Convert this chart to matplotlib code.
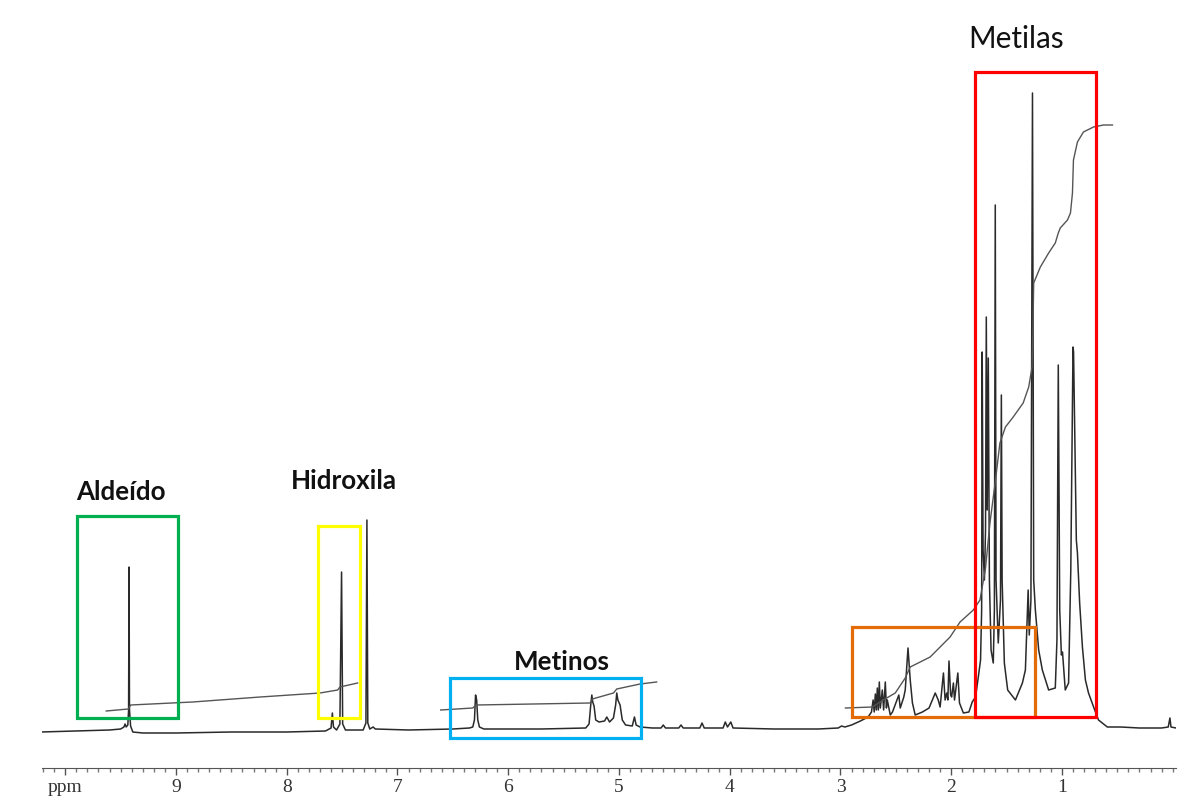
import matplotlib
matplotlib.use('Agg')
import matplotlib.pyplot as plt
from matplotlib.patches import Rectangle

# spectrum trace: chemical shift (ppm) and height above baseline
ppm = [10.22, 9.9, 9.6, 9.50, 9.47, 9.46, 9.45, 9.435, 9.428, 9.424, 9.420, 9.41, 9.39, 9.30, 9.0,
       8.5, 8.0, 7.65, 7.60, 7.588, 7.578, 7.55, 7.52, 7.505, 7.495, 7.47, 7.31, 7.285, 7.276,
       7.268, 7.25, 7.22, 7.20, 6.9, 6.5, 6.35, 6.32, 6.305, 6.295, 6.285, 6.275, 6.26, 6.22,
       5.7, 5.3, 5.27, 5.255, 5.245, 5.237, 5.225, 5.21, 5.18, 5.13, 5.11, 5.085, 5.05, 5.03,
       5.02, 5.01, 4.99, 4.97, 4.94, 4.88, 4.86, 4.845, 4.81, 4.7, 4.62, 4.60, 4.58, 4.46, 4.44,
       4.42, 4.27, 4.25, 4.23, 4.06, 4.04, 4.02, 3.99, 3.97, 3.6, 3.2, 3.02, 2.99, 2.96, 2.90,
       2.82, 2.75, 2.72, 2.705, 2.695, 2.685, 2.676, 2.667, 2.658, 2.649, 2.64, 2.622, 2.61,
       2.595, 2.585, 2.577, 2.55, 2.53, 2.473, 2.46, 2.428, 2.415, 2.39, 2.37, 2.35, 2.325,
       2.26, 2.20, 2.144, 2.117, 2.10, 2.07, 2.055, 2.04, 2.03, 2.02, 2.005, 1.996, 1.98, 1.97,
       1.94, 1.925, 1.89, 1.84, 1.81, 1.78, 1.755, 1.735, 1.725, 1.720, 1.712, 1.70, 1.69,
       1.683, 1.675, 1.665, 1.655, 1.64, 1.62, 1.61, 1.602, 1.595, 1.575, 1.555, 1.547, 1.54,
       1.52, 1.49, 1.42, 1.357, 1.33, 1.305, 1.295, 1.28, 1.266, 1.255, 1.24, 1.21, 1.177,
       1.12, 1.06, 1.045, 1.033, 1.02, 1.005, 0.995, 0.97, 0.94, 0.92, 0.90, 0.895, 0.885,
       0.87, 0.86, 0.84, 0.815, 0.788, 0.76, 0.714, 0.67, 0.59, 0.47, 0.3, 0.1, 0.04, 0.025,
       0.015, -0.03]
intensity = [-2, -1, 0, 1, 3, 6, 3, 5, 20, 163, 20, 4, -2, -3, -3,
             -2, -2, -1, 2, 17, 3, 0, 6, 158, 6, 0, 0, 7, 210,
             7, 1, 3, 1, 0, 1, 2, 3, 10, 35, 30, 10, 3, 1,
             1, 2, 6, 25, 35, 28, 24, 10, 8, 9, 13, 8, 12, 25,
             37, 30, 25, 10, 5, 4, 13, 5, 3, 2, 2, 5, 2, 2, 5,
             2, 2, 7, 2, 2, 8, 3, 8, 2, 1, 1, 2, 4, 3, 5,
             9, 13, 18, 30, 18, 36, 20, 42, 20, 48, 22, 40, 20,
             48, 22, 30, 15, 18, 35, 22, 33, 40, 82, 50, 27, 15,
             18, 22, 37, 30, 23, 57, 30, 37, 30, 69, 35, 33, 47, 30,
             57, 27, 17, 18, 28, 33, 53, 70, 120, 378, 180, 150, 200,
             413, 220, 372, 150, 80, 67, 120, 525, 150, 87, 130, 335, 150,
             67, 40, 30, 47, 60, 140, 95, 130, 637, 150, 120, 80, 60,
             40, 42, 90, 365, 120, 75, 78, 40, 47, 160, 383, 378, 300,
             190, 177, 127, 83, 50, 37, 23, 10, 3, 3, 2, 2, 3, 12,
             3, 2]

# integral traces (three separate segments)
int1_ppm = [9.63, 9.43, 9.41, 8.85, 8.24, 7.70, 7.54, 7.52, 7.36]
int1_val = [19, 21, 25, 28, 33, 37, 40, 43, 47]
int2_ppm = [6.61, 6.32, 6.29, 5.26, 5.24, 5.05, 5.02, 4.81, 4.66]
int2_val = [20, 22, 25, 27, 31, 37, 41, 46, 48]
int3_ppm = [2.955, 2.712, 2.613, 2.505, 2.415, 2.37, 2.28, 2.19, 2.10, 2.01, 1.92, 1.80,
            1.74, 1.69, 1.65, 1.60, 1.56, 1.51, 1.44, 1.35, 1.30, 1.27, 1.262, 1.255, 1.195,
            1.12, 1.06, 1.033, 1.015, 0.95, 0.923, 0.905, 0.896, 0.86, 0.806, 0.715, 0.625, 0.544]
int3_val = [22, 23, 30, 37, 52, 63, 68, 73, 83, 93, 108, 120,
            130, 162, 207, 250, 287, 303, 313, 327, 343, 363, 400, 447, 463,
            477, 487, 497, 502, 510, 517, 537, 570, 588, 598, 603, 605, 605]

tick_ppm = [10, 9, 8, 7, 6, 5, 4, 3, 2, 1]
tick_labels = ['ppm', '9', '8', '7', '6', '5', '4', '3', '2', '1']

# highlighted regions
region_names = ['Aldeído', 'Hidroxila', 'Metinos', '', 'Metilas']
region_colors = ['#00b050', '#ffff00', '#00b0f0', '#e36c09', '#ff0000']

fig = plt.figure(figsize=(12.03, 7.98), dpi=100)
ax = fig.add_axes([42 / 1203, 30 / 798, 1134 / 1203, 768 / 798])

ax.plot(ppm, intensity, color='#2a2a2a', lw=1.1)
for xs, ys in [(int1_ppm, int1_val), (int2_ppm, int2_val), (int3_ppm, int3_val)]:
    ax.plot(xs, ys, color='#555555', lw=1.0)

ax.set_xlim(10.21, -0.03)
ax.set_ylim(-38, 730)

for s in ['top', 'left', 'right']:
    ax.spines[s].set_visible(False)
ax.spines['bottom'].set_color('#555555')
ax.set_yticks([])
ax.set_xticks(tick_ppm)
ax.set_xticklabels(tick_labels, family='Liberation Serif', fontsize=14, color='#333333')
ax.set_xticks([i / 10 for i in range(0, 103)], minor=True)
ax.tick_params(axis='x', which='major', direction='out', length=5, width=1, color='#555555', pad=3)
ax.tick_params(axis='x', which='minor', direction='out', length=3, width=1, color='#777777')

# boxes: (left ppm, right ppm, bottom, top)
boxes = [(9.894, 8.982, 12, 214), (7.717, 7.338, 12, 204), (6.525, 4.80, -8, 52),
         (2.893, 1.240, 13, 103), (1.782, 0.689, 13, 658)]
for (x0, x1, y0, y1), col in zip(boxes, region_colors):
    ax.add_patch(Rectangle((x1, y0), x0 - x1, y1 - y0, fill=False, ec=col, lw=2.3, zorder=3))

label_pos = [(9.496, 238), (7.482, 249), (5.513, 68), None, (1.41, 691)]
for name, pos in zip(region_names, label_pos):
    if pos is None:
        continue
    bold = name != 'Metilas'
    ax.text(pos[0], pos[1], name, ha='center', va='center',
            family=['Lato', 'DejaVu Sans'], fontsize=18.7 if bold else 21.4,
            fontweight='bold' if bold else 'normal', color='#111111', clip_on=False)

plt.savefig('out.png', dpi=100)
